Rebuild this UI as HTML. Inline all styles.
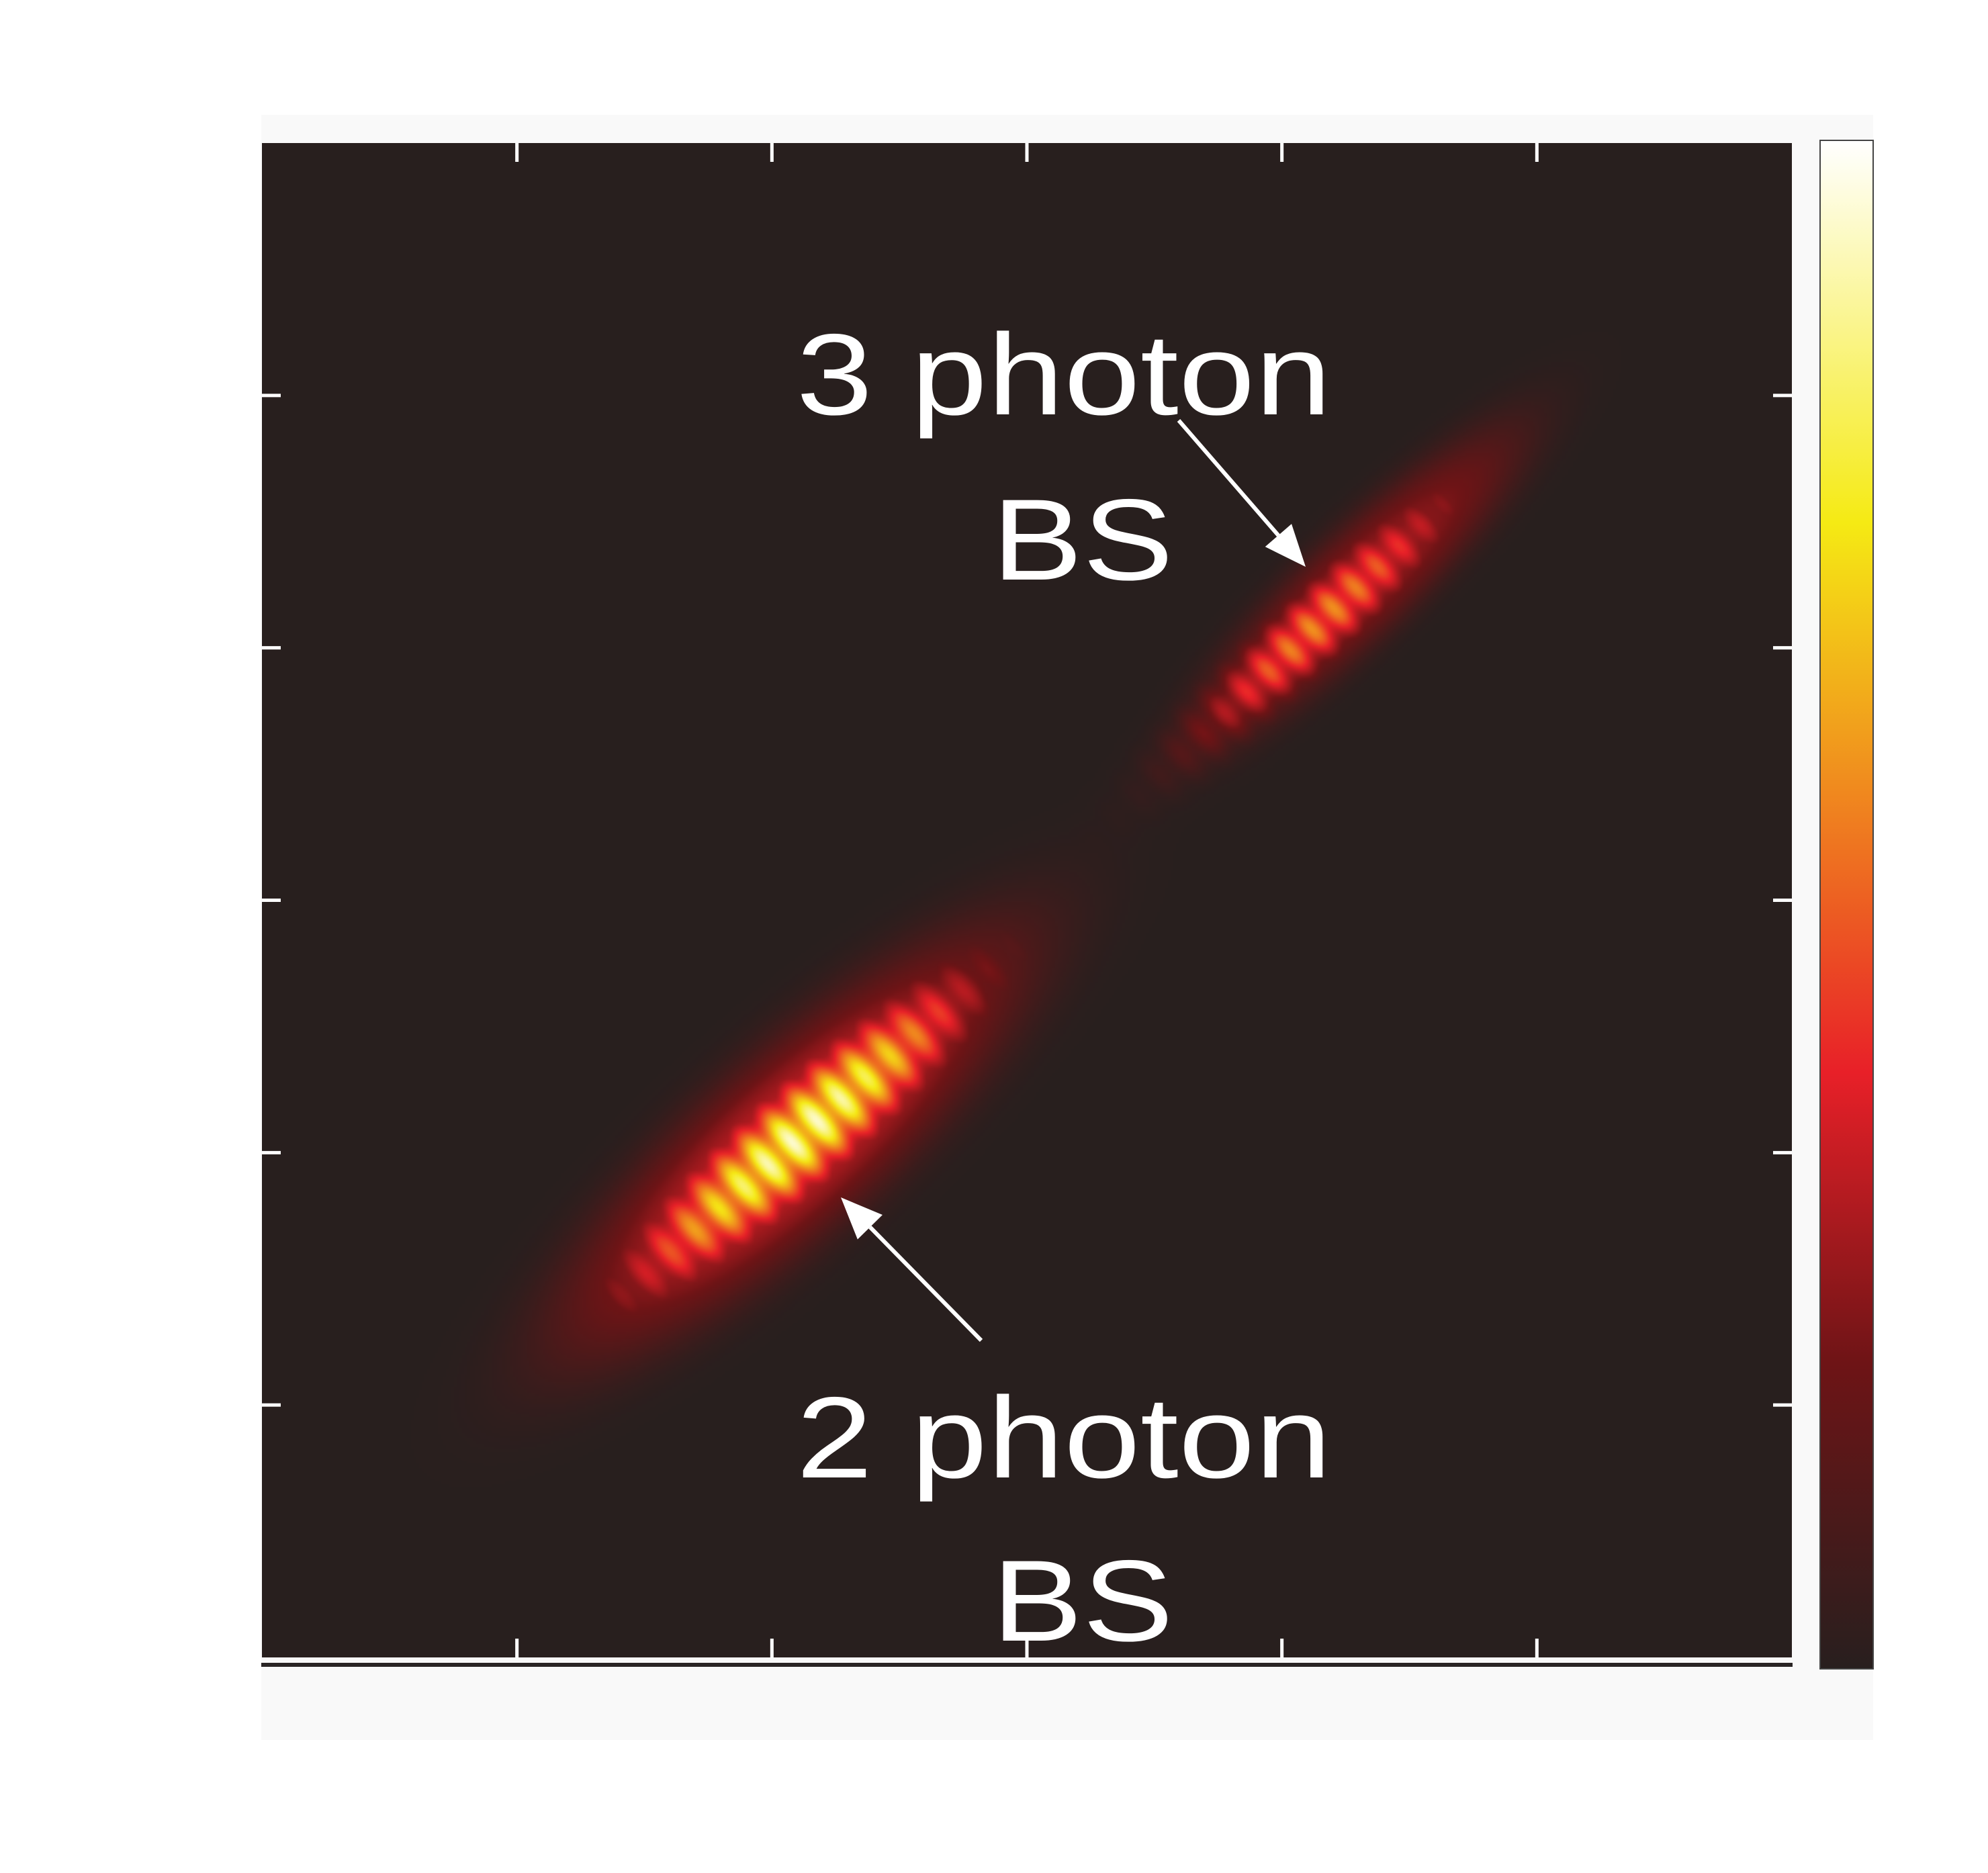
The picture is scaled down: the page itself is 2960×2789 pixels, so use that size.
<!DOCTYPE html>
<html><head><meta charset="utf-8"><style>
html,body{margin:0;padding:0;background:#fff;}
#wrap{position:relative;width:2960px;height:2789px;overflow:hidden;background:#fff;}
canvas{position:absolute;}
svg{position:absolute;left:0;top:0;}
</style></head><body>
<div id="wrap">
<div style="position:absolute;left:389px;top:171px;width:2400px;height:2420px;background:#f9f9f9"></div>
<canvas id="heat" width="570" height="564" style="left:390px;top:213px;width:2278px;height:2255px;"></canvas>
<svg id="ov" width="2960" height="2789"></svg>
</div>
<script>
// data
const xDomain=[0,6], yDomain=[0,6];
const xTicks=[1,2,3,4,5];
const yTicks=[1,2,3,4,5];
const blobNames=['2-photon-bs','3-photon-bs'];
const blobCx=[2.08,4.29];
const blobCy=[2.04,4.24];
const blobAngleDeg=[42,44];
const corePeak=[0.78,0.46];
const coreSigMajor=[0.55,0.45];
const coreSigMinor=[0.12,0.09];
const coreShift=[0.05,-0.2];
const haloPeak=[0.34,0.26];
const haloSigMajor=[1.15,0.85];
const haloSigMinor=[0.33,0.2];
const fringePeriod=[0.13,0.12];
const cmapStops=[0,0.2,0.39,0.58,0.75,1];
const cmapColors=[[40,31,30],[110,20,22],[232,32,40],[240,140,30],[245,234,20],[255,255,255]];
const annotations=['3 photon','BS','2 photon','BS'];

const L=390,T=213,R=2668,B=2468;
const xs=v=>L+(v-xDomain[0])/(xDomain[1]-xDomain[0])*(R-L);
const ys=v=>B-(v-yDomain[0])/(yDomain[1]-yDomain[0])*(B-T);
function cmap(t){t=Math.max(0,Math.min(1,t));
 for(let i=1;i<cmapStops.length;i++){if(t<=cmapStops[i]){const f=(t-cmapStops[i-1])/(cmapStops[i]-cmapStops[i-1]);const a=cmapColors[i-1],b=cmapColors[i];return [0,1,2].map(k=>Math.round(a[k]+(b[k]-a[k])*f));}}
 return cmapColors[cmapColors.length-1];}

const cv=document.getElementById('heat'),ctx=cv.getContext('2d');
const W=cv.width,H=cv.height,img=ctx.createImageData(W,H);
for(let j=0;j<H;j++)for(let i=0;i<W;i++){
 const x=xDomain[0]+(i+0.5)/W*(xDomain[1]-xDomain[0]);
 const y=yDomain[1]-(j+0.5)/H*(yDomain[1]-yDomain[0]);
 let v=0;
 for(let b=0;b<blobCx.length;b++){
  const a=blobAngleDeg[b]*Math.PI/180,dx=x-blobCx[b],dy=y-blobCy[b];
  const u=dx*Math.cos(a)+dy*Math.sin(a),w=-dx*Math.sin(a)+dy*Math.cos(a);
  const rh=(u/haloSigMajor[b])**2+(w/haloSigMinor[b])**2;
  const halo=haloPeak[b]*Math.exp(-Math.pow(rh,1.6));
  const rc=((u-coreShift[b])/coreSigMajor[b])**2+(w/coreSigMinor[b])**2;
  const fr=0.8+0.2*Math.cos(2*Math.PI*u/fringePeriod[b]);
  const core=corePeak[b]*Math.exp(-0.5*Math.pow(rc,1.1))*fr;
  v+=Math.max(halo,halo*0.5+core);
 }
 const c=cmap(v),p=(j*W+i)*4;img.data[p]=c[0];img.data[p+1]=c[1];img.data[p+2]=c[2];img.data[p+3]=255;
}
ctx.putImageData(img,0,0);

const NS='http://www.w3.org/2000/svg',ov=document.getElementById('ov');
function mk(t,at){const e=document.createElementNS(NS,t);for(const k in at)e.setAttribute(k,at[k]);ov.appendChild(e);return e;}
const defs=mk('defs',{});
const lg=document.createElementNS(NS,'linearGradient');lg.setAttribute('id','cg');lg.setAttribute('x1','0');lg.setAttribute('y1','1');lg.setAttribute('x2','0');lg.setAttribute('y2','0');defs.appendChild(lg);
cmapStops.forEach((s,k)=>{const st=document.createElementNS(NS,'stop');st.setAttribute('offset',s);st.setAttribute('stop-color','rgb('+cmapColors[k].join(',')+')');lg.appendChild(st);});
let e=mk('rect',{x:2710,y:209,width:79,height:2276,fill:'url(#cg)',stroke:'#444','stroke-width':2});


e=mk('rect',{x:389,y:2476,width:2280,height:6,fill:'#2a2525'});


xTicks.forEach(t=>{const x=xs(t);
 let a=mk('line',{x1:x,y1:B,x2:x,y2:B-28,stroke:'#fff','stroke-width':5});
 
 
 a=mk('line',{x1:x,y1:T,x2:x,y2:T+28,stroke:'#fff','stroke-width':5});
 
 });
yTicks.forEach(t=>{const y=ys(t);
 let a=mk('line',{x1:L,y1:y,x2:L+28,y2:y,stroke:'#fff','stroke-width':5});
 
 
 a=mk('line',{x1:R,y1:y,x2:R-28,y2:y,stroke:'#fff','stroke-width':5});
 
 });
const lx=[1584,1612,1584,1612],ly=[617,863,2200,2443],lw=[797,270,797,270];
annotations.forEach((s,k)=>{const t=mk('text',{x:lx[k],y:ly[k],'text-anchor':'middle','font-family':'Liberation Sans, sans-serif','font-size':172,fill:'#fff',textLength:lw[k],lengthAdjust:'spacingAndGlyphs'});t.textContent=s;
 
 });
function arrow(x1,y1,x2,y2,name){const g=mk('g',{});
 const a=Math.atan2(y2-y1,x2-x1),hl=62,hw=26;
 const bx=x2-hl*Math.cos(a),by=y2-hl*Math.sin(a);
 const l=document.createElementNS(NS,'line');[['x1',x1],['y1',y1],['x2',bx],['y2',by],['stroke','#fff'],['stroke-width',6]].forEach(p=>l.setAttribute(p[0],p[1]));g.appendChild(l);
 const p=document.createElementNS(NS,'polygon');p.setAttribute('fill','#fff');
 p.setAttribute('points',[x2,y2,bx-hw*Math.sin(a),by+hw*Math.cos(a),bx+hw*Math.sin(a),by-hw*Math.cos(a)].join(' '));g.appendChild(p);}
arrow(1755,626,1944,844,'arrow-3-photon');
arrow(1461,1996,1252,1783,'arrow-2-photon');
</script>
</body></html>
